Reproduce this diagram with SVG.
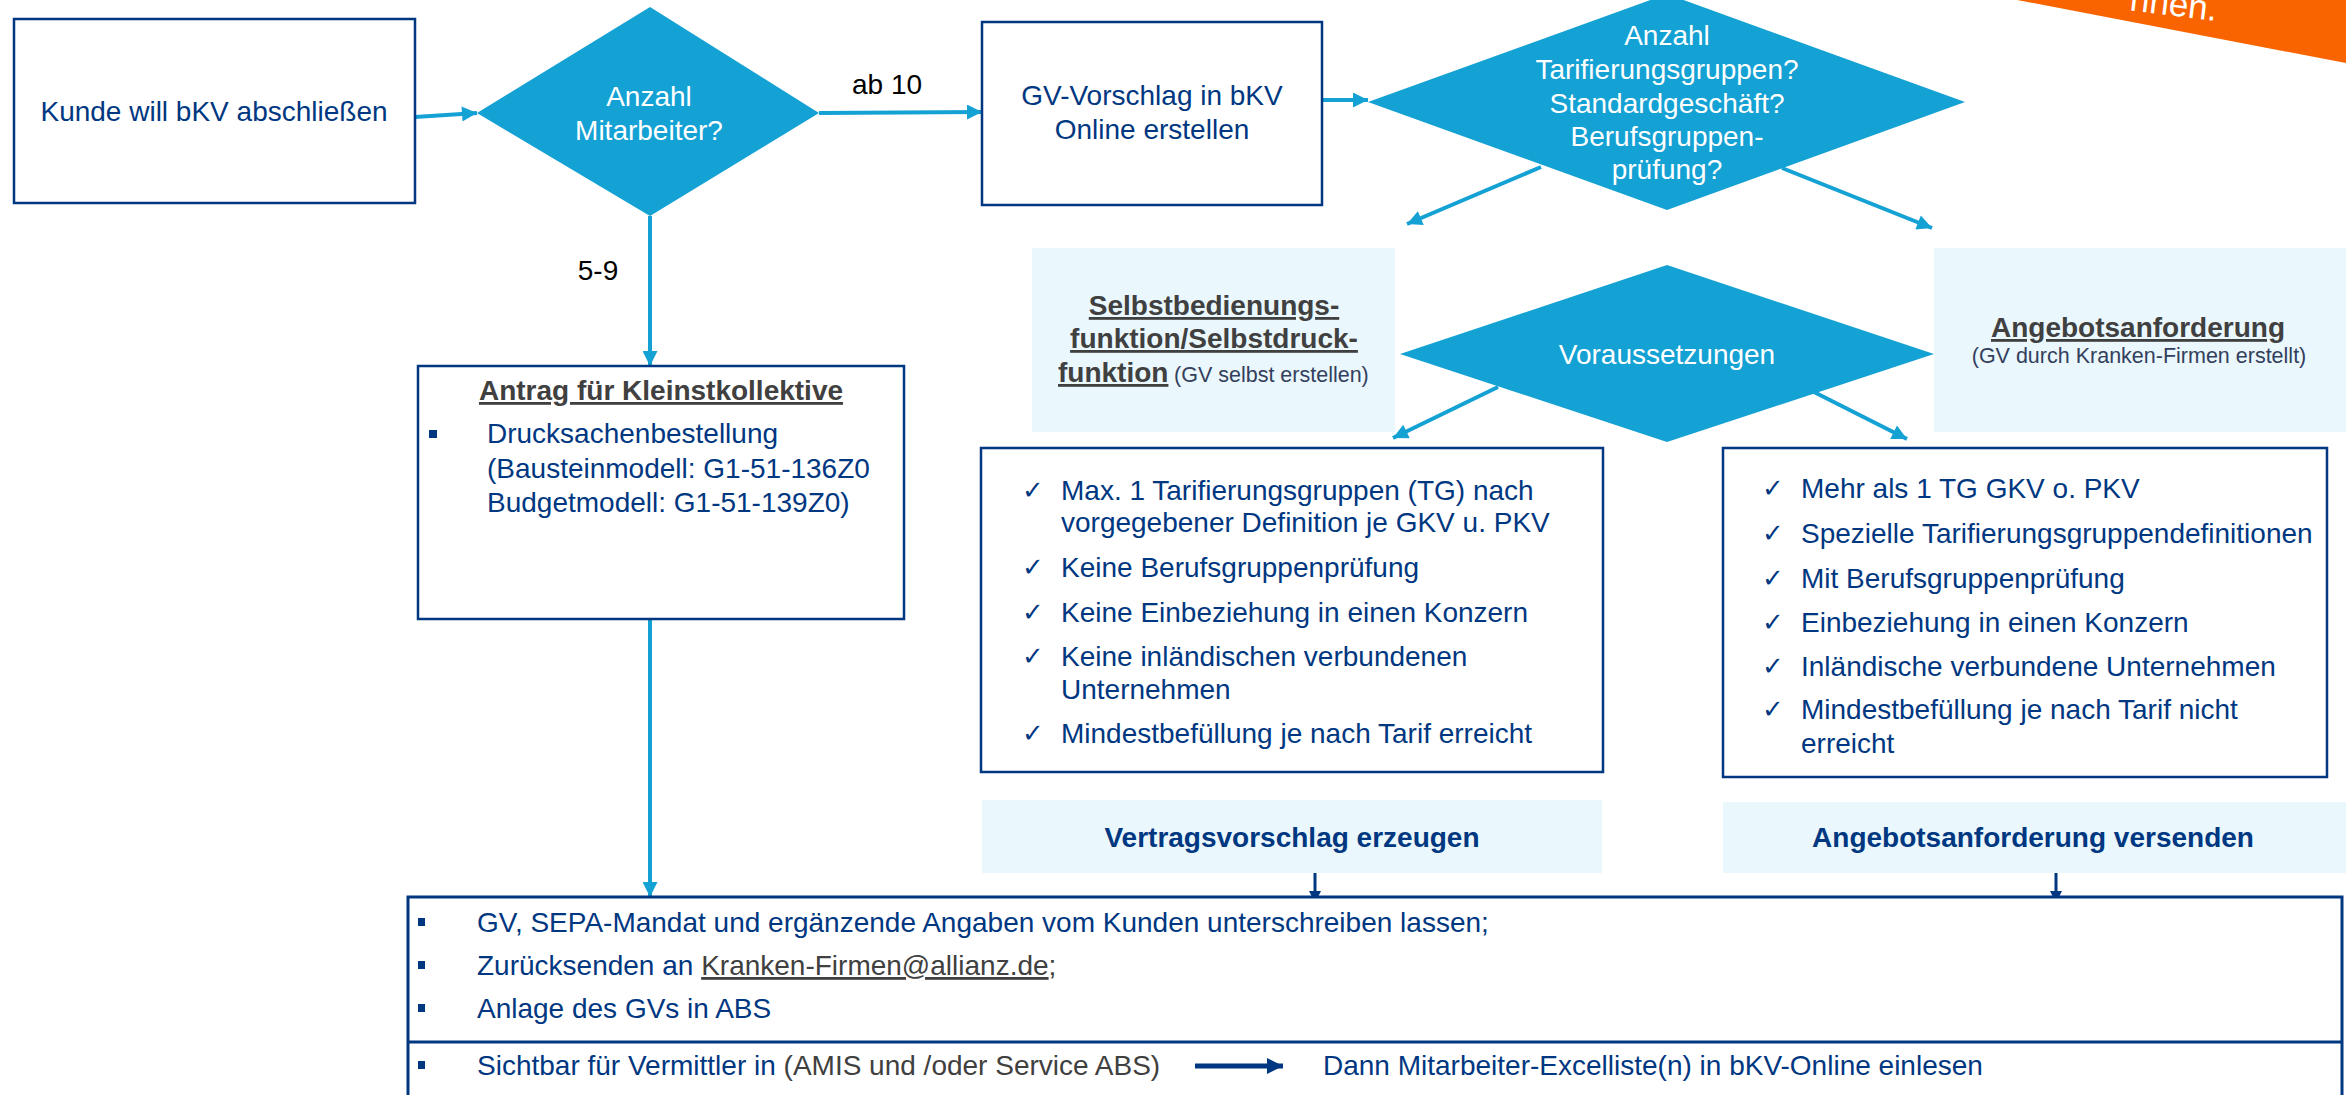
<svg xmlns="http://www.w3.org/2000/svg" width="2346" height="1095" viewBox="0 0 2346 1095">
<style>
text{font-family:"Liberation Sans",Arial,sans-serif;font-size:28px;fill:#003781}
.w{fill:#ffffff}
.k{fill:#000000}
.c{text-anchor:middle}
.h{font-weight:bold;fill:#404040;text-decoration:underline}
.b{font-weight:bold}
.g{fill:#404040}
.s{font-size:21.5px;fill:#333f5c}
.chk{font-family:"DejaVu Sans",sans-serif;font-size:26px}
.box{fill:#ffffff;stroke:#003781;stroke-width:2.5}
.lb{fill:#eaf7fd}
.dia{fill:#14a1d4}
.con{stroke:#14a1d4;stroke-width:4;fill:none;marker-end:url(#ah)}
.dcon{stroke:#003781;stroke-width:3;fill:none;marker-end:url(#ahd)}
.bul{fill:#003781}
</style>
<defs>
<marker id="ah" viewBox="0 0 10 10" refX="10" refY="5" markerWidth="18" markerHeight="15" markerUnits="userSpaceOnUse" orient="auto"><path d="M0,0 L10,5 L0,10 z" fill="#14a1d4"/></marker>
<marker id="ahd" viewBox="0 0 10 10" refX="10" refY="5" markerWidth="14" markerHeight="12" markerUnits="userSpaceOnUse" orient="auto"><path d="M0,0 L10,5 L0,10 z" fill="#003781"/></marker>
<marker id="ahb" viewBox="0 0 10 10" refX="10" refY="5" markerWidth="18" markerHeight="16" markerUnits="userSpaceOnUse" orient="auto"><path d="M0,0 L10,5 L0,10 z" fill="#003781"/></marker>
</defs>

<g id="banner">
<polygon points="2017,0 2346,63 2346,0" fill="#f96400"/>
<text class="w" x="2216" y="21" text-anchor="end" transform="rotate(7 2216 21)" style="font-size:35px">nnen.</text>
</g>

<g id="connectors">
<line class="con" x1="415" y1="117" x2="477" y2="113"/>
<line class="con" x1="819" y1="113" x2="982" y2="112"/>
<text class="k c" x="887" y="94">ab 10</text>
<line class="con" x1="1322" y1="100" x2="1368" y2="100"/>
<line class="con" x1="1541" y1="167" x2="1407" y2="224"/>
<line class="con" x1="1782" y1="168" x2="1932" y2="228"/>
<line class="con" x1="650" y1="216" x2="650" y2="366"/>
<text class="k c" x="598" y="280">5-9</text>
<line class="con" x1="1498" y1="387" x2="1393" y2="438"/>
<line class="con" x1="1814" y1="392" x2="1907" y2="439"/>
<line class="con" x1="650" y1="619" x2="650" y2="897"/>
<line class="dcon" x1="1315" y1="873" x2="1315" y2="903"/>
<line class="dcon" x1="2056" y1="873" x2="2056" y2="903"/>
</g>

<g id="n-kunde">
<rect class="box" x="14" y="19" width="401" height="184"/>
<text class="c" x="214" y="121">Kunde will bKV abschließen</text>
</g>

<g id="n-anzahl-ma">
<polygon class="dia" points="650,7 819,113 650,216 477,113"/>
<text class="w c" x="649" y="106">Anzahl</text>
<text class="w c" x="649" y="140">Mitarbeiter?</text>
</g>

<g id="n-gv-vorschlag">
<rect class="box" x="982" y="22" width="340" height="183"/>
<text class="c" x="1152" y="105">GV-Vorschlag in bKV</text>
<text class="c" x="1152" y="139">Online erstellen</text>
</g>

<g id="n-anzahl-tg">
<polygon class="dia" points="1667,-6 1965,102 1667,210 1368,102"/>
<text class="w c" x="1667" y="45">Anzahl</text>
<text class="w c" x="1667" y="79">Tarifierungsgruppen?</text>
<text class="w c" x="1667" y="113">Standardgeschäft?</text>
<text class="w c" x="1667" y="146">Berufsgruppen-</text>
<text class="w c" x="1667" y="179">prüfung?</text>
</g>

<g id="n-selbst">
<rect class="lb" x="1032" y="248" width="363" height="184"/>
<text class="h c" x="1214" y="315">Selbstbedienungs-</text>
<text class="h c" x="1214" y="348">funktion/Selbstdruck-</text>
<text class="h" x="1058" y="382">funktion</text>
<text class="s" x="1174" y="382">(GV selbst erstellen)</text>
</g>

<g id="n-voraussetzungen">
<polygon class="dia" points="1667,265 1934,354 1667,442 1400,354"/>
<text class="w c" x="1667" y="364">Voraussetzungen</text>
</g>

<g id="n-angebot">
<rect class="lb" x="1934" y="248" width="412" height="184"/>
<text class="h c" x="2138" y="337">Angebotsanforderung</text>
<text class="s c" x="2139" y="363">(GV durch Kranken-Firmen erstellt)</text>
</g>

<g id="n-antrag">
<rect class="box" x="418" y="366" width="486" height="253"/>
<text class="h c" x="661" y="400">Antrag für Kleinstkollektive</text>
<rect class="bul" x="429" y="430" width="8" height="8"/>
<text x="487" y="443">Drucksachenbestellung</text>
<text x="487" y="478">(Bausteinmodell: G1-51-136Z0</text>
<text x="487" y="512">Budgetmodell: G1-51-139Z0)</text>
</g>

<g id="n-kriterien-selbst">
<rect class="box" x="981" y="448" width="622" height="324"/>
<text class="chk" x="1022" y="499">✓</text><text x="1061" y="500">Max. 1 Tarifierungsgruppen (TG) nach</text>
<text x="1061" y="532">vorgegebener Definition je GKV u. PKV</text>
<text class="chk" x="1022" y="576">✓</text><text x="1061" y="577">Keine Berufsgruppenprüfung</text>
<text class="chk" x="1022" y="621">✓</text><text x="1061" y="622">Keine Einbeziehung in einen Konzern</text>
<text class="chk" x="1022" y="665">✓</text><text x="1061" y="666">Keine inländischen verbundenen</text>
<text x="1061" y="699">Unternehmen</text>
<text class="chk" x="1022" y="742">✓</text><text x="1061" y="743">Mindestbefüllung je nach Tarif erreicht</text>
</g>

<g id="n-kriterien-angebot">
<rect class="box" x="1723" y="448" width="604" height="329"/>
<text class="chk" x="1762" y="497">✓</text><text x="1801" y="498">Mehr als 1 TG GKV o. PKV</text>
<text class="chk" x="1762" y="542">✓</text><text x="1801" y="543">Spezielle Tarifierungsgruppendefinitionen</text>
<text class="chk" x="1762" y="587">✓</text><text x="1801" y="588">Mit Berufsgruppenprüfung</text>
<text class="chk" x="1762" y="631">✓</text><text x="1801" y="632">Einbeziehung in einen Konzern</text>
<text class="chk" x="1762" y="675">✓</text><text x="1801" y="676">Inländische verbundene Unternehmen</text>
<text class="chk" x="1762" y="718">✓</text><text x="1801" y="719">Mindestbefüllung je nach Tarif nicht</text>
<text x="1801" y="753">erreicht</text>
</g>

<g id="n-vertrag">
<rect class="lb" x="982" y="800" width="620" height="73"/>
<text class="b c" x="1292" y="847">Vertragsvorschlag erzeugen</text>
</g>

<g id="n-versenden">
<rect class="lb" x="1723" y="802" width="623" height="71"/>
<text class="b c" x="2033" y="847">Angebotsanforderung versenden</text>
</g>

<g id="n-abschluss">
<rect x="408" y="897" width="1934" height="210" fill="#ffffff" stroke="#003781" stroke-width="3"/>
<line x1="408" y1="1042" x2="2342" y2="1042" stroke="#003781" stroke-width="3"/>
<rect class="bul" x="418" y="918" width="7" height="8"/>
<text x="477" y="932">GV, SEPA-Mandat und ergänzende Angaben vom Kunden unterschreiben lassen;</text>
<rect class="bul" x="418" y="961" width="7" height="8"/>
<text x="477" y="975">Zurücksenden an <tspan class="g" style="text-decoration:underline">Kranken-Firmen@allianz.de</tspan><tspan class="g">;</tspan></text>
<rect class="bul" x="418" y="1004" width="7" height="8"/>
<text x="477" y="1018">Anlage des GVs in ABS</text>
<rect class="bul" x="418" y="1061" width="7" height="8"/>
<text x="477" y="1075">Sichtbar für Vermittler in <tspan class="g">(AMIS und /oder Service ABS)</tspan></text>
<line x1="1195" y1="1066" x2="1283" y2="1066" stroke="#003781" stroke-width="5" marker-end="url(#ahb)"/>
<text x="1323" y="1075">Dann Mitarbeiter-Excelliste(n) in bKV-Online einlesen</text>
</g>
</svg>
